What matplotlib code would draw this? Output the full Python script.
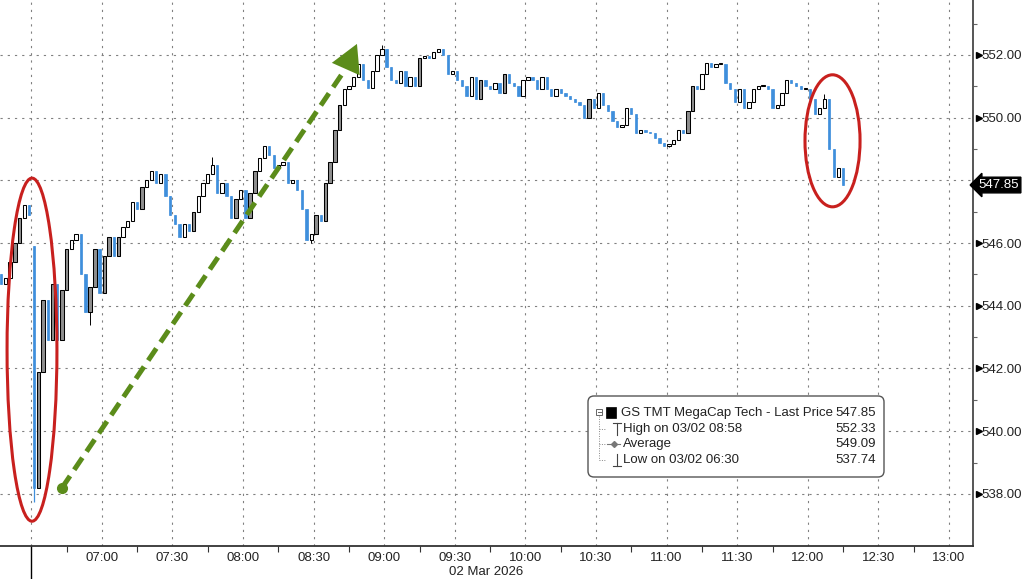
import matplotlib
matplotlib.use("Agg")
import matplotlib.pyplot as plt
import matplotlib.transforms as mtrans
from matplotlib.patches import Ellipse, FancyBboxPatch, Rectangle
from matplotlib.lines import Line2D
import numpy as np

W, H, DPI = 1024, 579, 100

# ------------------------------------------------------------------ data
first_bar = "06:16"          # first (previous-session) 2-minute bar
bar_minutes = 2

prev_session_closes = [544.7, 544.9, 545.4, 546.0, 546.8, 547.2, 546.9]   # 06:16 .. 06:28

session_closes = [                                                      # 06:30 .. 12:14
    538.2, 541.9, 544.2, 542.9, 544.7, 542.9, 544.5, 545.8, 546.1, 546.3,   # 06:30
    545.0, 543.8, 544.6, 545.8, 544.4, 545.6, 546.2, 545.6, 546.2, 546.5,   # 06:50
    546.7, 547.3, 547.1, 547.8, 548.0, 548.3, 547.9, 548.2, 547.5, 546.9,   # 07:10
    546.6, 546.2, 546.6, 546.4, 547.0, 547.5, 547.9, 548.2, 548.5, 547.6,   # 07:30
    547.9, 547.5, 546.8, 547.4, 547.7, 546.8, 547.6, 548.3, 548.7, 549.1,   # 07:50
    548.8, 548.4, 548.5, 548.6, 547.9, 548.0, 547.7, 547.1, 546.1, 546.3,   # 08:10
    546.9, 546.7, 547.9, 548.6, 549.6, 550.4, 550.9, 551.0, 551.3, 551.7,   # 08:30
    551.2, 550.95, 551.5, 552.0, 552.2, 551.6, 551.2, 551.1, 551.5, 551.0,  # 08:50
    551.3, 551.0, 551.9, 551.95, 551.9, 552.1, 552.2, 552.0, 551.4, 551.5,  # 09:10
    551.2, 551.0, 550.7, 551.3, 550.6, 551.2, 551.0, 550.9, 551.1, 550.8,   # 09:30
    551.4, 551.1, 551.0, 550.7, 551.2, 551.3, 551.2, 550.9, 551.3, 550.9,   # 09:50
    550.7, 550.9, 550.8, 550.7, 550.6, 550.5, 550.4, 550.0, 550.6, 550.3,   # 10:10
    550.8, 550.4, 550.2, 549.9, 549.7, 549.75, 550.3, 550.1, 549.5, 549.6,  # 10:30
    549.55, 549.5, 549.35, 549.2, 549.1, 549.15, 549.3, 549.6, 549.5, 550.2,  # 10:50
    551.0, 550.9, 551.4, 551.75, 551.6, 551.7, 551.7, 551.1, 550.9, 550.5,  # 11:10
    550.9, 550.3, 550.5, 550.9, 551.0, 551.0, 550.9, 550.3, 550.4, 550.8,   # 11:30
    551.2, 551.1, 551.0, 550.9, 550.9, 550.6, 550.1, 550.3, 550.6, 549.0,   # 11:50
    548.1, 548.4, 547.85,                                                   # 12:10
]

open_overrides = {"06:16": 545.0, "06:30": 545.9}
high_overrides = {"06:30": 545.9, "07:46": 548.75, "08:58": 552.33, "12:06": 550.75}
low_overrides = {"06:30": 537.74, "06:54": 543.4, "08:28": 546.0, "11:00": 549.05}

y_ticks = [538, 540, 542, 544, 546, 548, 550, 552]
grid_times = ["06:30", "07:00", "07:30", "08:00", "08:30", "09:00", "09:30", "10:00",
              "10:30", "11:00", "11:30", "12:00", "12:30", "13:00"]
x_tick_labels = grid_times[1:]
minor_x_times = ["06:45", "07:15", "07:45", "08:15", "08:45", "09:15", "09:45",
                 "10:15", "10:45", "11:15", "11:45", "12:15", "12:45"]
last_price = 547.85
date_label = "02 Mar 2026"
legend_rows = [("GS TMT MegaCap Tech - Last Price", "547.85"),
               ("High on 03/02 08:58", "552.33"),
               ("Average", "549.09"),
               ("Low on 03/02 06:30", "537.74")]

# ------------------------------------------------------------------ helpers
def tmin(s):
    h, m = map(int, s.split(":"))
    return h * 60 + m - 390          # minutes from 06:30

closes = prev_session_closes + session_closes
t0 = tmin(first_bar)
times = [t0 + bar_minutes * i for i in range(len(closes))]
labels_t = ["%02d:%02d" % ((t + 390) // 60, (t + 390) % 60) for t in times]
opens = []
for i, lab in enumerate(labels_t):
    if lab in open_overrides:
        opens.append(open_overrides[lab])
    else:
        opens.append(closes[i - 1])
highs = [high_overrides.get(l, max(o, c)) for l, o, c in zip(labels_t, opens, closes)]
lows = [low_overrides.get(l, min(o, c)) for l, o, c in zip(labels_t, opens, closes)]

plt.rcParams["font.family"] = ["Liberation Sans", "DejaVu Sans"]

fig = plt.figure(figsize=(W / DPI, H / DPI), dpi=DPI, facecolor="white")
ax = fig.add_axes([0, 33 / H, 973 / W, 546 / H])
ax.set_facecolor("white")

# pixel transform for annotation overlay (origin top-left)
px = mtrans.Affine2D().scale(1, -1).translate(0, H).scale(1 / W, 1 / H) + fig.transFigure

BLUE = "#3f8fdc"
GRAY = "#8e8e8e"

# ------------------------------------------------------------------ candles
for t, o, hi, lo, c in zip(times, opens, highs, lows, closes):
    xc = t + bar_minutes / 2
    up = c >= o
    bot = min(o, c)
    hgt = max(abs(c - o), 0.05)
    if up:
        face = GRAY if (c - o) >= 0.6 else "white"
        col = "black"
        ax.vlines(xc, lo, hi, color=col, lw=0.7, zorder=2)
        ax.bar(xc, hgt, bottom=bot, width=1.45, color=face, edgecolor=col, lw=0.75, zorder=3)
    else:
        col = BLUE
        ax.vlines(xc, lo, hi, color=col, lw=0.9, zorder=2)
        ax.bar(xc, hgt, bottom=bot, width=0.95, color=col, edgecolor=col, lw=0.5, zorder=3)

# ------------------------------------------------------------------ axes & grid
ax.set_xlim(-13.3, 400.2)
ax.set_ylim(536.34, 553.75)

for v in y_ticks:
    ax.axhline(v, color="#808080", lw=0.8, ls=(0, (2.0, 4.5)), zorder=1)
for g in grid_times:
    ax.axvline(tmin(g), color="#808080", lw=0.8, ls=(0, (2.0, 4.5)), zorder=1)

for s in ["top", "left"]:
    ax.spines[s].set_visible(False)
ax.spines["right"].set_color("#555555")
ax.spines["right"].set_linewidth(1.4)
ax.spines["bottom"].set_color("#333333")
ax.spines["bottom"].set_linewidth(1.3)

ax.yaxis.tick_right()
ax.set_yticks(y_ticks)
ax.set_yticklabels(["" if abs(v - last_price) < 0.5 else "%.2f" % v for v in y_ticks])
ax.set_yticks([v + 1 for v in y_ticks[:-1]] + [553], minor=True)
ax.tick_params(axis="y", which="major", length=0, pad=6, labelsize=9.5, labelcolor="#222222")
ax.tick_params(axis="y", which="minor", length=3, width=0.8, color="#666666", direction="out")

ax.set_xticks([tmin(l) for l in x_tick_labels])
ax.set_xticklabels(x_tick_labels)
ax.set_xticks([tmin(l) for l in minor_x_times], minor=True)
ax.tick_params(axis="x", which="major", length=0, pad=4, labelsize=9.5, labelcolor="#222222")
ax.tick_params(axis="x", which="minor", length=4, width=0.8, color="#333333", direction="out")

# arrow-like tick markers on the right axis
tri_vals = [v for v in y_ticks if abs(v - last_price) >= 0.5]
bt = mtrans.blended_transform_factory(ax.transAxes, ax.transData)
ax.plot([1.006] * len(tri_vals), tri_vals, transform=bt, ls="none", marker=">",
        ms=4.5, color="black", clip_on=False, zorder=6)

# last price tag
ax.text(1019 / 973, last_price, "%.2f" % last_price, transform=bt, ha="right", va="center",
        fontsize=9.5, color="white", zorder=7, clip_on=False,
        bbox=dict(boxstyle="larrow,pad=0.14", fc="black", ec="black"))

# session separator below the axis at 06:30
ax.axvline(tmin("06:30"), ymin=-33 / 546, ymax=0, color="black", lw=1.0, clip_on=False)

fig.text(486.5, 572, date_label, transform=px, ha="center", va="center",
         fontsize=9.5, color="#222222")

# ------------------------------------------------------------------ annotations
RED = "#c8201e"
ax.add_patch(Ellipse((0.3, 542.6), 21.2, 10.94, fill=False, ec=RED, lw=2.2, zorder=8))
ax.add_patch(Ellipse((340.5, 549.26), 23.4, 4.21, fill=False, ec=RED, lw=2.2, zorder=8))

GREEN = "#5b8c1a"
ax.plot([13.0, 133.5], [538.19, 551.55], color=GREEN, lw=3.6, ls=(0, (2.9, 1.5)),
        solid_capstyle="butt", dash_capstyle="butt", zorder=9)
ax.plot([13.0], [538.19], marker="o", ms=7, color=GREEN, zorder=9)
ax.annotate("", xy=(138.4, 552.35), xytext=(131.0, 551.1),
            arrowprops=dict(arrowstyle="-|>,head_length=0.9,head_width=0.5",
                            color=GREEN, lw=0, shrinkA=0, shrinkB=0, mutation_scale=22),
            zorder=9)

# ------------------------------------------------------------------ legend box
box = FancyBboxPatch((588, 396), 296, 81, boxstyle="round,pad=0,rounding_size=6",
                     transform=px, fc="white", ec="#555555", lw=1.0, zorder=10)
fig.add_artist(box)
fig.add_artist(Rectangle((596, 409), 6, 6, transform=px, fc="white", ec="#666666",
                         lw=0.7, zorder=11))
fig.add_artist(Line2D([597.5, 600.5], [412, 412], transform=px, color="#666666",
                      lw=0.7, zorder=11))
fig.add_artist(Rectangle((606, 407), 10, 11, transform=px, fc="black", ec="black",
                         lw=0.5, zorder=11))
fig.add_artist(Line2D([599, 599], [416, 460], transform=px, color="#888888", lw=0.7,
                      ls=(0, (1, 1.5)), zorder=11))
for yy in [429, 444, 460]:
    fig.add_artist(Line2D([599, 606], [yy, yy], transform=px, color="#888888", lw=0.7,
                          ls=(0, (1, 1.5)), zorder=11))
# high symbol
fig.add_artist(Line2D([617, 617], [423, 435], transform=px, color="#444444", lw=0.8, zorder=11))
fig.add_artist(Line2D([613, 621], [423, 423], transform=px, color="#444444", lw=0.8, zorder=11))
# average symbol
fig.add_artist(Line2D([607, 620], [444, 444], transform=px, color="#777777", lw=0.8, zorder=11))
fig.add_artist(Line2D([613.5], [444], transform=px, color="#777777", marker="D", ms=3,
                      ls="none", zorder=11))
# low symbol
fig.add_artist(Line2D([617, 617], [454, 466], transform=px, color="#444444", lw=0.8, zorder=11))
fig.add_artist(Line2D([613, 621], [466, 466], transform=px, color="#444444", lw=0.8, zorder=11))

row_y = [413, 429, 444, 460]
row_x = [621, 623, 623, 623]
for (lab, val), yy, xx in zip(legend_rows, row_y, row_x):
    fig.text(xx, yy, lab, transform=px, ha="left", va="center", fontsize=9.5,
             color="#222222", zorder=12)
    fig.text(876, yy, val, transform=px, ha="right", va="center", fontsize=9.5,
             color="#222222", zorder=12)

fig.savefig("out.png", dpi=DPI, facecolor="white")
